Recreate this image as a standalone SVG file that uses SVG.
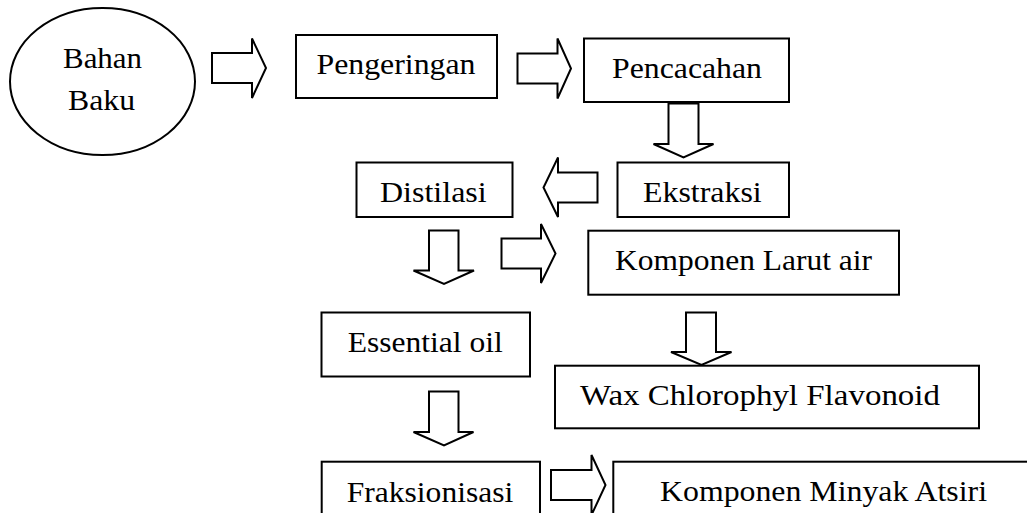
<svg xmlns="http://www.w3.org/2000/svg" width="1027" height="513" viewBox="0 0 1027 513">
<style>
.box{fill:#fff;stroke:#000;stroke-width:2}
.arr{fill:#fff;stroke:#000;stroke-width:2;stroke-linejoin:miter}
.t{font-family:'Liberation Serif','Times New Roman',serif;font-size:30px;fill:#000}
</style>
<rect width="1027" height="513" fill="#fff"/>
<g id="connectors">
<path class="arr" d="M212,53 H252 V38.5 L266,68 L252,98 V83 H212 Z"/>
<path class="arr" d="M517.5,53.5 H557.5 V38.5 L571,68.5 L557.5,98.5 V83.5 H517.5 Z"/>
<path class="arr" d="M668.5,103.5 H698.5 V144 H713.5 L683.5,157.5 L653.5,144 H668.5 Z"/>
<path class="arr" d="M597.5,172.5 H558 V157.5 L543.5,187.5 L558,217 V202.5 H597.5 Z"/>
<path class="arr" d="M429,230.5 H458.5 V270.5 H474 L444,284 L413.5,270.5 H429 Z"/>
<path class="arr" d="M501.5,238.5 H541 V224 L555.5,253.5 L541,283 V268.5 H501.5 Z"/>
<path class="arr" d="M686,312.5 H716 V352 H731.5 L701.5,365 L671,352 H686 Z"/>
<path class="arr" d="M429,391.5 H458.5 V432 H473.5 L444,445.5 L413.5,432 H429 Z"/>
<path class="arr" d="M551,470 H591.5 V455 L605.5,485 L591.5,515 V500 H551 Z"/>
</g>
<g id="bahan-baku">
<ellipse class="box" cx="102.5" cy="81.5" rx="92.5" ry="73.5"/>
<text class="t" x="63" y="68" textLength="79" lengthAdjust="spacingAndGlyphs">Bahan</text>
<text class="t" x="68" y="110" textLength="67" lengthAdjust="spacingAndGlyphs">Baku</text>
</g>
<g id="pengeringan">
<rect class="box" x="296" y="35" width="201" height="63"/>
<text class="t" x="316.5" y="74" textLength="159" lengthAdjust="spacingAndGlyphs">Pengeringan</text>
</g>
<g id="pencacahan">
<rect class="box" x="584" y="38.5" width="205" height="63.5"/>
<text class="t" x="612" y="77.5" textLength="150" lengthAdjust="spacingAndGlyphs">Pencacahan</text>
</g>
<g id="ekstraksi">
<rect class="box" x="617.5" y="162.5" width="171.5" height="54.5"/>
<text class="t" x="643" y="201.7" textLength="118.7" lengthAdjust="spacingAndGlyphs">Ekstraksi</text>
</g>
<g id="distilasi">
<rect class="box" x="356.5" y="162.5" width="156" height="54.5"/>
<text class="t" x="380" y="201.7" textLength="106.7" lengthAdjust="spacingAndGlyphs">Distilasi</text>
</g>
<g id="komponen-larut-air">
<rect class="box" x="588.3" y="230.7" width="310.7" height="64"/>
<text class="t" x="615" y="270" textLength="257" lengthAdjust="spacingAndGlyphs">Komponen Larut air</text>
</g>
<g id="essential-oil">
<rect class="box" x="321.5" y="312.5" width="208.5" height="64"/>
<text class="t" x="347.7" y="352" textLength="155" lengthAdjust="spacingAndGlyphs">Essential oil</text>
</g>
<g id="wax-chlorophyl-flavonoid">
<rect class="box" x="555" y="365.7" width="424" height="62.6"/>
<text class="t" x="580" y="405" textLength="360" lengthAdjust="spacingAndGlyphs">Wax Chlorophyl Flavonoid</text>
</g>
<g id="fraksionisasi">
<rect class="box" x="321.7" y="461.7" width="218.3" height="70"/>
<text class="t" x="346.7" y="501.5" textLength="166.6" lengthAdjust="spacingAndGlyphs">Fraksionisasi</text>
</g>
<g id="komponen-minyak-atsiri">
<rect class="box" x="613.3" y="461.7" width="420" height="70"/>
<text class="t" x="660" y="501" textLength="327" lengthAdjust="spacingAndGlyphs">Komponen Minyak Atsiri</text>
</g>
</svg>
